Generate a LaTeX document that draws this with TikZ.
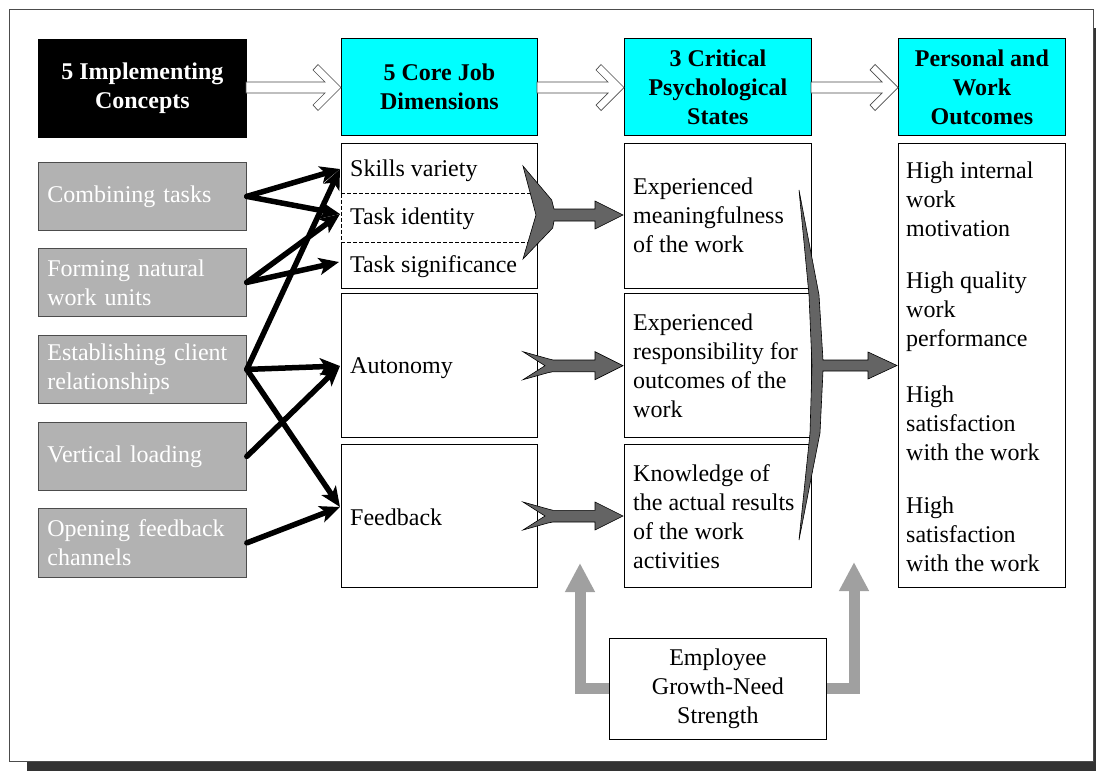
\documentclass[tikz,border=0pt]{standalone}
\usepackage{fontspec}
\setmainfont{Liberation Serif}
\usetikzlibrary{arrows.meta}
\definecolor{cyanbox}{RGB}{0,255,255}
\definecolor{boxgray}{RGB}{178,178,178}
\definecolor{fletchgray}{RGB}{100,100,100}
\definecolor{lightarrow}{RGB}{160,160,160}
\definecolor{shadowc}{RGB}{51,51,51}
\newcommand{\hollowarr}[2]{%
  \filldraw[hollow] (#1,82) -- ({#2-16},82) -- ({#2-28},70) -- ({#2-23},64.5) -- (#2,87.5)
    -- ({#2-23},110.5) -- ({#2-28},105) -- ({#2-16},93) -- (#1,93) -- cycle;}
\newcommand{\smallfletch}[1]{%
  \filldraw[fletch] (523,{#1-14}) -- (548,{#1-7}) -- (553,{#1-5.7}) -- (595,{#1-5.7})
    -- (595,{#1-14}) -- (623,#1) -- (595,{#1+14}) -- (595,{#1+6}) -- (553,{#1+6})
    -- (548,{#1+7}) -- (523,{#1+14}) -- (545,#1) -- cycle;}
\begin{document}
\begin{tikzpicture}[x=1pt,y=-1pt,
  every node/.style={font=\fontsize{24}{29}\selectfont, inner sep=0pt},
  hdr/.style={draw=black, line width=0.8pt, anchor=north west, align=center,
    font=\fontsize{24}{29}\selectfont\bfseries},
  wbox/.style={draw=black, line width=0.8pt, fill=white, anchor=north west},
  gbox/.style={draw=gray!60!black, line width=0.8pt, fill=boxgray, anchor=north west,
    text=white, align=left, text width=190pt, inner xsep=9pt, minimum height=68pt},
  txt/.style={anchor=west, align=left},
  hollow/.style={draw=gray!60!black, fill=white, line width=0.7pt, line join=miter},
  fletch/.style={draw=black, fill=fletchgray, line width=0.6pt, line join=miter},
  blk/.style={line width=5.5pt, line cap=round, -{Stealth[length=20pt,width=17pt,inset=5pt]}},
  lga/.style={draw=lightarrow, line width=11pt, line join=miter,
    -{Triangle[length=29pt,width=28pt]}}
]
\useasboundingbox (0,0) rectangle (1096,771);
% frame with shadow
\fill[shadowc] (27,28) rectangle (1096,771);
\draw[fill=white, draw=gray!60!black, line width=0.8pt] (9,9) rectangle (1093,761);

% headers
\node[hdr, fill=black, text=white, minimum width=208pt, minimum height=98pt] (h1) at (38,39) {5 Implementing\\Concepts};
\node[hdr, fill=cyanbox, minimum width=196pt, minimum height=97pt] (h2) at (341,38) {5 Core Job\\Dimensions};
\node[hdr, fill=cyanbox, minimum width=187pt, minimum height=97pt] (h3) at (624,38) {3 Critical\\Psychological\\States};
\node[hdr, fill=cyanbox, minimum width=167pt, minimum height=97pt] (h4) at (898,38) {Personal and\\Work\\Outcomes};

\hollowarr{246}{341}
\hollowarr{537}{624}
\hollowarr{811}{898}

% implementing concepts
\node[gbox] (g1) at (38,162) {Combining tasks};
\node[gbox] (g2) at (38,248) {Forming natural\\work units};
\node[gbox] (g3) at (38,335) {Establishing client\\relationships};
\node[gbox] (g4) at (38,422) {Vertical loading};
\node[gbox, minimum height=69pt] (g5) at (38,508) {Opening feedback\\channels};

% core job dimensions
\node[wbox, minimum width=196pt, minimum height=145pt] (cj1) at (341,143) {};
\draw[white, line width=1.4pt] (341,194) -- (341,242);
\draw[line width=0.6pt, dash pattern=on 4pt off 2pt] (341,193.5) -- (537,193.5) (341,242) -- (537,242) (341,193.5) -- (341,242);
\node[wbox, minimum width=196pt, minimum height=144pt] (cj2) at (341,293) {};
\node[wbox, minimum width=196pt, minimum height=143pt] (cj3) at (341,444) {};
\node[txt] (sv) at (350,170.5) {Skills variety};
\node[txt] (ti) at (350,218.5) {Task identity};
\node[txt] (ts) at (350,266.5) {Task significance};
\node[txt] (au) at (350,368) {Autonomy};
\node[txt] (fb) at (350,517) {Feedback};

% critical psychological states
\node[wbox, minimum width=187pt, minimum height=145pt] (cs1) at (624,143) {};
\node[wbox, minimum width=187pt, minimum height=144pt] (cs2) at (624,293) {};
\node[wbox, minimum width=187pt, minimum height=143pt] (cs3) at (624,444) {};
\node[txt] (cs1t) at (633,215.5) {Experienced\\meaningfulness\\of the work};
\node[txt] (cs2t) at (633,365.5) {Experienced\\responsibility for\\outcomes of the\\work};
\node[txt] (cs3t) at (633,516.5) {Knowledge of\\the actual results\\of the work\\activities};

% outcomes
\node[wbox, minimum width=167pt, minimum height=444pt] (ob) at (898,143) {};
\node[txt] (o1) at (906,199) {High internal\\work\\motivation};
\node[txt] (o2) at (906,312) {High quality\\work\\performance};
\node[txt] (o3) at (906,423) {High\\satisfaction\\with the work};
\node[txt] (o4) at (906,534) {High\\satisfaction\\with the work};

% growth need strength
\node[wbox, minimum width=217pt, minimum height=101pt, align=center] (egn) at (609,638) {Employee\\Growth-Need\\Strength};

% black connectors
\coordinate (svin) at (340,169);
\coordinate (tiin) at (340,214);
\coordinate (tsin) at (339,262);
\coordinate (auin) at (340,366);
\coordinate (fbin) at (340,507);
\draw[blk] (g1.east) -- (svin);
\draw[blk] (g1.east) -- (tiin);
\draw[blk] (g2.east) -- (tiin);
\draw[blk] (g2.east) -- (tsin);
\draw[blk] (g3.east) -- (svin);
\draw[blk] (g3.east) -- (auin);
\draw[blk] (g3.east) -- (fbin);
\draw[blk] (g4.east) -- (auin);
\draw[blk] (g5.east) -- (fbin);

% fletched arrows
\filldraw[fletch] (523,166) -- (551.7,200) -- (554,209) -- (595,209) -- (595,201) -- (623,215)
  -- (595,229) -- (595,221) -- (554,221) -- (552.7,228) -- (523,259) -- (536,215) -- cycle;
\smallfletch{365.7}
\smallfletch{516}
\filldraw[fletch] (799,190) -- (819,295) -- (823,360) -- (868,360) -- (868,352) -- (897,365.5)
  -- (868,379) -- (868,371) -- (823,371) -- (820,433) -- (799,540) -- (810,433) -- (812,365.5)
  -- (809,295) -- cycle;

% light gray arrows
\coordinate (up1) at (580,563);
\coordinate (up2) at (854,562);
\draw[lga] (egn.west) -| (up1);
\draw[lga] (egn.east) -| (up2);
\end{tikzpicture}
\end{document}
